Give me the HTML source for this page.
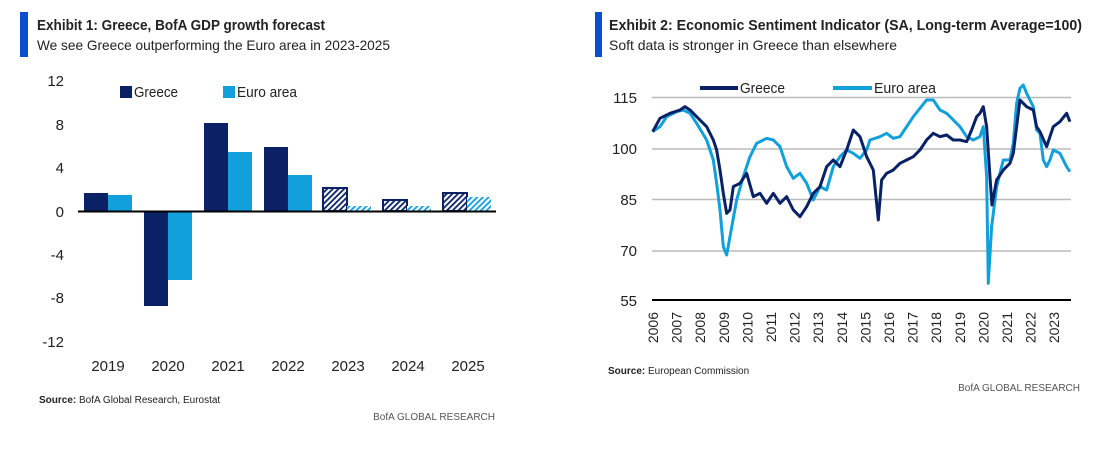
<!DOCTYPE html>
<html><head><meta charset="utf-8"><style>
html,body{margin:0;padding:0;background:#fff}
svg text{font-family:"Liberation Sans",sans-serif}
</style></head><body>
<svg width="1109" height="467" viewBox="0 0 1109 467" xmlns="http://www.w3.org/2000/svg">
<defs>
<pattern id="hg" width="4" height="4" patternUnits="userSpaceOnUse" patternTransform="rotate(45)"><rect width="4" height="4" fill="#fff"/><rect width="1.8" height="4" fill="#0a2265"/></pattern>
<pattern id="he" width="4" height="4" patternUnits="userSpaceOnUse" patternTransform="rotate(45)"><rect width="4" height="4" fill="#fff"/><rect width="1.8" height="4" fill="#11a0db"/></pattern>
</defs>
<rect x="20" y="12" width="8" height="45" fill="#0b4fcf"/>
<text x="37" y="30" font-size="14.5" font-weight="bold" fill="#222" textLength="288" lengthAdjust="spacingAndGlyphs">Exhibit 1: Greece, BofA GDP growth forecast</text>
<text x="37" y="50" font-size="14" fill="#222" textLength="353" lengthAdjust="spacingAndGlyphs">We see Greece outperforming the Euro area in 2023-2025</text>
<g font-size="15" fill="#222" text-anchor="end">
<text x="64" y="86">12</text><text x="64" y="130">8</text><text x="64" y="173">4</text><text x="64" y="217">0</text><text x="64" y="260">-4</text><text x="64" y="303">-8</text><text x="64" y="347">-12</text>
</g>
<rect x="120" y="86" width="12" height="12" fill="#0a2265"/><text x="134" y="97" font-size="15" fill="#222" textLength="44" lengthAdjust="spacingAndGlyphs">Greece</text>
<rect x="223" y="86" width="12" height="12" fill="#11a0db"/><text x="237" y="97" font-size="15" fill="#222" textLength="60" lengthAdjust="spacingAndGlyphs">Euro area</text>
<g>
<rect x="84" y="193" width="24" height="18" fill="#0a2265"/><rect x="108" y="195" width="24" height="16" fill="#11a0db"/>
<rect x="144" y="211" width="24" height="95" fill="#0a2265"/><rect x="168" y="211" width="24" height="69" fill="#11a0db"/>
<rect x="204" y="123" width="24" height="88" fill="#0a2265"/><rect x="228" y="152" width="24" height="59" fill="#11a0db"/>
<rect x="264" y="147" width="24" height="64" fill="#0a2265"/><rect x="288" y="175" width="24" height="36" fill="#11a0db"/>
<rect x="323" y="188" width="24" height="23" fill="url(#hg)" stroke="#0a2265" stroke-width="2"/><rect x="347" y="206" width="24" height="5" fill="url(#he)"/>
<rect x="383" y="200" width="24" height="11" fill="url(#hg)" stroke="#0a2265" stroke-width="2"/><rect x="407" y="206" width="24" height="5" fill="url(#he)"/>
<rect x="443" y="193" width="24" height="18" fill="url(#hg)" stroke="#0a2265" stroke-width="2"/><rect x="467" y="197" width="24" height="14" fill="url(#he)"/>
</g>
<line x1="78" y1="211.5" x2="496" y2="211.5" stroke="#000" stroke-width="2"/>
<g font-size="15" fill="#222" text-anchor="middle">
<text x="108" y="371">2019</text><text x="168" y="371">2020</text><text x="228" y="371">2021</text><text x="288" y="371">2022</text><text x="348" y="371">2023</text><text x="408" y="371">2024</text><text x="468" y="371">2025</text>
</g>
<text x="39" y="403" font-size="10" fill="#222"><tspan font-weight="bold">Source:</tspan>  BofA Global Research, Eurostat</text>
<text x="495" y="420" font-size="10" fill="#555" text-anchor="end">BofA GLOBAL RESEARCH</text>

<rect x="595" y="12" width="7" height="45" fill="#0b4fcf"/>
<text x="609" y="30" font-size="14.5" font-weight="bold" fill="#222" textLength="473" lengthAdjust="spacingAndGlyphs">Exhibit 2: Economic Sentiment Indicator (SA, Long-term Average=100)</text>
<text x="609" y="50" font-size="14" fill="#222" textLength="288" lengthAdjust="spacingAndGlyphs">Soft data is stronger in Greece than elsewhere</text>
<g stroke="#bbb" stroke-width="1.5">
<line x1="652" y1="97.5" x2="1071" y2="97.5"/><line x1="652" y1="149" x2="1071" y2="149"/><line x1="652" y1="199.5" x2="1071" y2="199.5"/><line x1="652" y1="251" x2="1071" y2="251"/>
</g>
<g font-size="15" fill="#222" text-anchor="end">
<text x="637" y="103">115</text><text x="637" y="154">100</text><text x="637" y="205">85</text><text x="637" y="256">70</text><text x="637" y="306">55</text>
</g>
<line x1="700" y1="88" x2="738" y2="88" stroke="#0a2265" stroke-width="4"/><text x="740" y="93" font-size="15" fill="#222" textLength="45" lengthAdjust="spacingAndGlyphs">Greece</text>
<line x1="833" y1="88" x2="872" y2="88" stroke="#11a0db" stroke-width="4"/><text x="874" y="93" font-size="15" fill="#222" textLength="62" lengthAdjust="spacingAndGlyphs">Euro area</text>
<g transform="translate(580,60) scale(0.3333)" fill="none" stroke-linejoin="round" stroke-width="9">
<polyline stroke="#11a0db" points="218,215 240,200 260,170 290,155 310,150 330,160 350,190 380,240 400,300 410,370 420,450 430,560 440,585 450,530 470,420 490,350 510,290 530,250 560,235 580,240 600,260 620,320 640,355 660,340 680,370 700,420 720,380 740,390 760,320 780,290 800,270 820,280 840,295 860,270 870,240 900,230 920,220 940,235 960,230 980,200 1000,170 1040,120 1060,120 1080,150 1100,160 1120,180 1140,200 1160,230 1180,240 1200,230 1210,200 1220,350 1225,670 1235,500 1250,380 1270,300 1290,300 1300,250 1310,130 1320,85 1330,75 1340,100 1350,120 1360,140 1370,210 1380,220 1390,300 1400,320 1410,300 1420,270 1440,280 1460,320 1470,335"/>
<polyline stroke="#0a2265" points="218,215 240,175 270,160 300,150 315,140 330,150 350,170 380,200 400,240 410,270 420,330 430,400 440,460 450,450 460,380 480,370 500,340 520,410 540,400 560,430 580,400 600,430 620,410 640,450 660,470 680,440 700,400 720,380 740,320 760,300 780,320 800,270 820,210 840,230 860,290 880,330 895,480 905,360 920,340 940,330 960,310 980,300 1000,290 1020,270 1040,240 1060,220 1080,230 1100,225 1120,240 1140,240 1160,245 1175,210 1190,170 1200,160 1210,140 1220,200 1230,350 1236,435 1250,360 1270,330 1290,310 1300,280 1310,200 1320,120 1340,140 1360,150 1370,200 1380,215 1400,260 1410,230 1420,200 1440,185 1460,160 1470,185"/>
</g>
<line x1="652" y1="300" x2="1071" y2="300" stroke="#000" stroke-width="2"/>
<g font-size="14" fill="#222" text-anchor="end">
<text transform="translate(658,312) rotate(-90)">2006</text><text transform="translate(681.6,312) rotate(-90)">2007</text><text transform="translate(705.2,312) rotate(-90)">2008</text><text transform="translate(728.8,312) rotate(-90)">2009</text><text transform="translate(752.4,312) rotate(-90)">2010</text><text transform="translate(776,312) rotate(-90)">2011</text><text transform="translate(799.6,312) rotate(-90)">2012</text><text transform="translate(823.2,312) rotate(-90)">2013</text><text transform="translate(846.8,312) rotate(-90)">2014</text><text transform="translate(870.4,312) rotate(-90)">2015</text><text transform="translate(894,312) rotate(-90)">2016</text><text transform="translate(917.6,312) rotate(-90)">2017</text><text transform="translate(941.2,312) rotate(-90)">2018</text><text transform="translate(964.8,312) rotate(-90)">2019</text><text transform="translate(988.4,312) rotate(-90)">2020</text><text transform="translate(1012,312) rotate(-90)">2021</text><text transform="translate(1035.6,312) rotate(-90)">2022</text><text transform="translate(1059.2,312) rotate(-90)">2023</text>
</g>
<text x="608" y="374" font-size="10" fill="#222"><tspan font-weight="bold">Source:</tspan>  European Commission</text>
<text x="1080" y="391" font-size="10" fill="#555" text-anchor="end">BofA GLOBAL RESEARCH</text>
</svg>
</body></html>
